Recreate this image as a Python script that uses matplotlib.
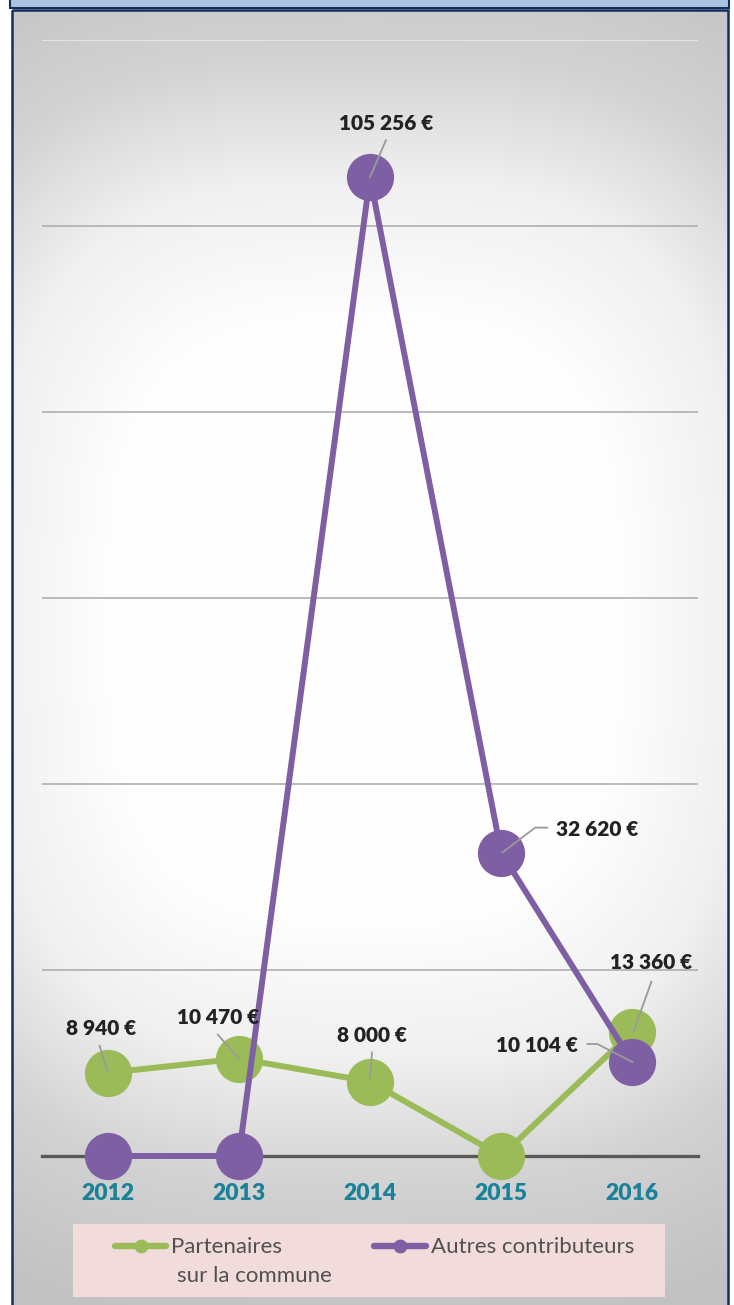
import numpy as np
import matplotlib
matplotlib.use("Agg")
import matplotlib.pyplot as plt
from matplotlib.patches import Rectangle
from matplotlib.lines import Line2D
from matplotlib.transforms import IdentityTransform

# ---- data ----
years = ["2012", "2013", "2014", "2015", "2016"]
partenaires = [8940, 10470, 8000, 0, 13360]
autres = [0, 0, 105256, 32620, 10104]
series_names = ["Partenaires\n sur la commune", "Autres contributeurs"]

GREEN = "#9bbb59"
PURPLE = "#7f5fa3"
TEAL = "#1b8199"
LABEL_COL = "#222222"
LEADER_COL = "#9a9a9a"

W, H = 734, 1305
fig = plt.figure(figsize=(W / 100, H / 100), dpi=100)

# ---- background panel (pixel coordinates, y downward) ----
bg = fig.add_axes([0, 0, 1, 1])
bg.set_xlim(0, W)
bg.set_ylim(H, 0)
bg.axis("off")
fig.patch.set_facecolor("white")

px0, px1, py0, py1 = 12, 728, 10, H + 5
gx = np.linspace(px0, px1, 360)
gy = np.linspace(py0, py1, 650)
XX, YY = np.meshgrid(gx, gy)
p = 3.0
r = (np.abs((XX - 365) / 600) ** p + np.abs((YY - 620) / 710) ** p) ** (1 / p)
shade = np.interp(r, [0, 0.42, 0.62, 0.8, 1.0, 1.3], [255, 254, 240, 210, 194, 188]) / 255
img = np.dstack([shade, shade, shade])
bg.imshow(img, extent=(px0, px1, py1, py0), aspect="auto", interpolation="bilinear", zorder=0)
bg.add_patch(Rectangle((px0, py0), px1 - px0, py1 - py0, fill=False,
                       edgecolor="#13305c", lw=1.8, zorder=2))
# header strip
bg.add_patch(Rectangle((10, -5), 719, 13, facecolor="#adc3e2",
                       edgecolor="#13305c", lw=1.5, zorder=2))

# legend box
bg.add_patch(Rectangle((73, 1224), 592, 73, facecolor="#f2dcdb", edgecolor="none", zorder=1))
leg_font = dict(family=["Lato", "DejaVu Sans"], fontsize=16, color="#505050")
bg.add_line(Line2D([115, 166], [1246, 1246], color=GREEN, lw=4.6, solid_capstyle="round", zorder=3))
bg.plot([140.5], [1246], "o", color=GREEN, ms=9, zorder=4)
bg.text(171, 1247, series_names[0].split("\n")[0], va="center", ha="left", **leg_font)
bg.text(177, 1276, series_names[0].split("\n")[1].strip(), va="center", ha="left", **leg_font)
bg.add_line(Line2D([374, 426], [1246, 1246], color=PURPLE, lw=4.6, solid_capstyle="round", zorder=3))
bg.plot([400], [1246], "o", color=PURPLE, ms=9, zorder=4)
bg.text(431, 1247, series_names[1], va="center", ha="left", **leg_font)

# ---- chart axes ----
left, right, top, zero = 42, 698, 40, 1156
ax = fig.add_axes([left / W, 1 - zero / H, (right - left) / W, (zero - top) / H])
ax.patch.set_alpha(0)
ax.set_xlim(-0.5, len(years) - 0.5)
ax.set_ylim(0, 120000)
for s in ax.spines.values():
    s.set_visible(False)
ax.set_yticks([])
x = np.arange(len(years))
ax.set_xticks(x, years)
ax.tick_params(axis="x", length=0, pad=19.5)
for t in ax.get_xticklabels():
    t.set_family(["Lato", "DejaVu Sans"])
    t.set_fontweight("heavy")
    t.set_fontsize(16.5)
    t.set_color(TEAL)

for gyv in range(20000, 120000, 20000):
    ax.axhline(gyv, color="#a9a9a9", lw=1.1, zorder=1)
ax.axhline(120000, color="#e4e4e4", lw=1.6, zorder=1)
ax.axhline(0, color="#595959", lw=2.4, zorder=2, clip_on=False)

ax.plot(x, partenaires, color=GREEN, lw=4.3, marker="o", ms=33,
        solid_capstyle="round", clip_on=False, zorder=3)
ax.plot(x, autres, color=PURPLE, lw=4.3, marker="o", ms=33,
        solid_capstyle="round", clip_on=False, zorder=4)

# ---- value labels with leader lines (offsets in pixels, y downward) ----
label_layout = {
    ("p", 0): ((-7, -44), [(-8, -27), (0, -1)]),
    ("p", 1): ((-21, -41), [(-21, -24), (0, 0)]),
    ("p", 2): ((2, -46), [(2, -29), (0, -4)]),
    ("p", 4): ((19, -69), [(19, -50), (1, 0)]),
    ("a", 2): ((16, -54), [(16, -37), (0, 0)]),
    ("a", 3): ((96, -23), [(46, -25), (34, -25), (1, 0)]),
    ("a", 4): ((-95, -17), [(-45, -18), (-35, -18), (0, 0)]),
}


def fmt(v):
    return f"{v:,}".replace(",", " ") + " €"


for key, vals in (("p", partenaires), ("a", autres)):
    for i, v in enumerate(vals):
        if (key, i) not in label_layout:
            continue
        (tdx, tdy), leader = label_layout[(key, i)]
        cx, cy = ax.transData.transform((i, v))
        fig.add_artist(Line2D([cx + dx for dx, dy in leader], [cy - dy for dx, dy in leader],
                              color=LEADER_COL, lw=1.3, transform=IdentityTransform(), zorder=6))
        ax.annotate(fmt(v), xy=(i, v), xytext=(tdx, -tdy), textcoords="offset pixels",
                    ha="center", va="center", fontsize=15, fontweight="heavy",
                    family=["Lato", "DejaVu Sans"], color=LABEL_COL, zorder=7,
                    annotation_clip=False)

fig.savefig("out.png", dpi=100)
